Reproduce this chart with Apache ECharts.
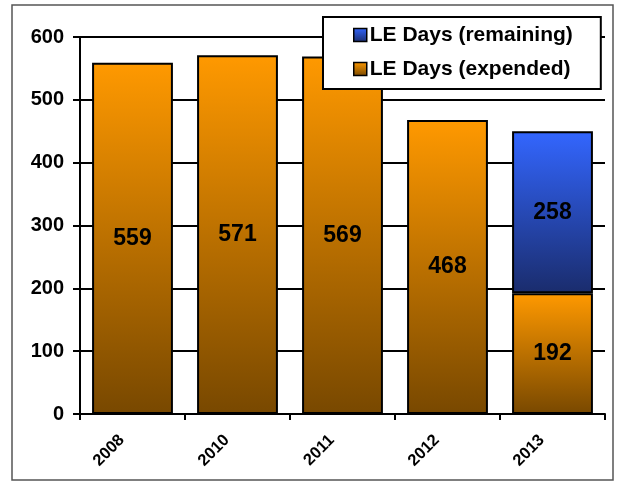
<!DOCTYPE html>
<html><head><meta charset="utf-8">
<script src="https://cdn.jsdelivr.net/npm/echarts@6/dist/echarts.min.js"></script>
<style>html,body{margin:0;padding:0;background:#fff}#c{width:618px;height:486px}</style>
</head><body><div id="c"></div>
<script>
const categories = ['2008', '2010', '2011', '2012', '2013'];
const expended = [559, 571, 569, 468, 192];
const remaining = [null, null, null, null, 258];
const yTicks = [0, 100, 200, 300, 400, 500, 600];

const chart = echarts.init(document.getElementById('c'), null, {renderer: 'canvas'});
const orangeGrad = new echarts.graphic.LinearGradient(0, 0, 0, 1, [
  {offset: 0, color: '#FF9900'}, {offset: 1, color: '#784800'}]);
const blueGrad = new echarts.graphic.LinearGradient(0, 0, 0, 1, [
  {offset: 0, color: '#3366FF'}, {offset: 1, color: '#1A2C6C'}]);
const font = 'Arial, "Liberation Sans", sans-serif';
chart.setOption({
  animation: false,
  backgroundColor: '#fff',
  graphic: [{type: 'rect', shape: {x: 12, y: 5, width: 601, height: 475},
    style: {fill: 'none', stroke: '#555', lineWidth: 1.5}, z: 100}],
  grid: {left: 80, right: 13, top: 37, bottom: 72},
  legend: {
    orient: 'vertical', left: 323, top: 17,
    padding: [7, 28, 9, 30], itemGap: 12, itemWidth: 13, itemHeight: 13,
    backgroundColor: '#fff', borderColor: '#000', borderWidth: 2,
    data: [
      {name: 'LE Days (remaining)', icon: 'rect', itemStyle: {color: blueGrad, borderColor: '#000', borderWidth: 1.5}},
      {name: 'LE Days (expended)', icon: 'rect', itemStyle: {color: orangeGrad, borderColor: '#000', borderWidth: 1.5}}
    ],
    textStyle: {fontFamily: font, fontWeight: 'bold', fontSize: 21, lineHeight: 22, color: '#000', padding: [0, 0, 0, -2]},
    z: 10
  },
  xAxis: {
    type: 'category', data: categories,
    axisLine: {lineStyle: {color: '#000', width: 2}},
    axisTick: {show: true, length: 6, lineStyle: {color: '#000', width: 2}},
    axisLabel: {rotate: 45, fontFamily: font, fontWeight: 'bold', fontSize: 16.5, color: '#000', margin: 13,
      padding: [0, 15, 0, 0]}
  },
  yAxis: {
    type: 'value', min: 0, max: 600, interval: 100,
    axisLine: {show: true, lineStyle: {color: '#000', width: 2}},
    axisTick: {show: true, length: 7, lineStyle: {color: '#000', width: 2}},
    splitLine: {lineStyle: {color: '#000', width: 2}},
    axisLabel: {fontFamily: font, fontWeight: 'bold', fontSize: 20, color: '#000', margin: 16,
      formatter: v => yTicks.includes(v) ? String(v) : ''}
  },
  series: [
    {name: 'LE Days (expended)', type: 'bar', stack: 's', data: expended, barWidth: '77%',
      itemStyle: {color: orangeGrad, borderColor: '#000', borderWidth: 2},
      label: {show: true, position: 'inside', fontFamily: font, fontWeight: 'bold', fontSize: 23, color: '#000'}},
    {name: 'LE Days (remaining)', type: 'bar', stack: 's', data: remaining, barWidth: '77%',
      itemStyle: {color: blueGrad, borderColor: '#000', borderWidth: 2},
      label: {show: true, position: 'inside', fontFamily: font, fontWeight: 'bold', fontSize: 23, color: '#000'}}
  ]
});
</script></body></html>
